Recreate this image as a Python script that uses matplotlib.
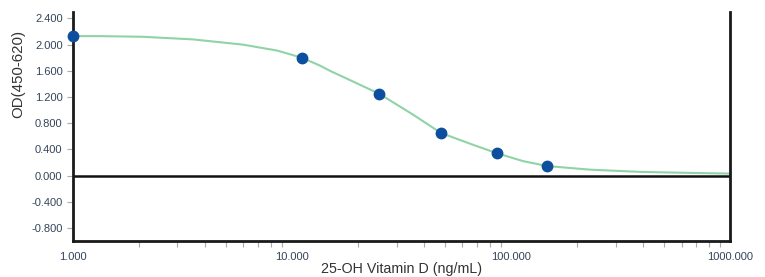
import numpy as np
import matplotlib.pyplot as plt
from matplotlib.ticker import FixedLocator, LogLocator, NullFormatter

plt.rcParams['font.family'] = ['Liberation Sans', 'DejaVu Sans']

# Standards (measured points)
conc = [1.0, 11.1, 25.0, 47.9, 86.3, 146.0]
od = [2.13, 1.80, 1.25, 0.65, 0.34, 0.145]

# Fitted curve
curve_x = [1.0, 1.33, 2.09, 3.53, 5.97, 8.54, 11.1, 13.4, 14.9, 17.8, 25.0,
           35.7, 47.9, 67.0, 86.3, 113.5, 146.0, 229.0, 388.0, 657.0, 1000.0]
curve_y = [2.13, 2.13, 2.12, 2.08, 2.00, 1.91, 1.80, 1.68, 1.60, 1.48, 1.25,
           0.93, 0.65, 0.47, 0.34, 0.22, 0.145, 0.09, 0.056, 0.04, 0.03]

y_ticks = [2.4, 2.0, 1.6, 1.2, 0.8, 0.4, 0.0, -0.4, -0.8]
x_ticks = [1, 10, 100, 1000]

fig = plt.figure(figsize=(7.65, 2.77), dpi=100)
ax = fig.add_axes([0.0954, 0.130, 0.859, 0.827])

ax.plot(curve_x, curve_y, color='#8fd4a6', lw=1.5, zorder=2)
ax.plot(conc, od, 'o', color='#0d4f9e', ms=7.5, zorder=3, clip_on=False)
ax.axhline(0, color='#111111', lw=1.8, zorder=1)

ax.set_xscale('log')
ax.set_xlim(1, 1000)
ax.set_ylim(-1.0, 2.5)

ax.xaxis.set_major_locator(FixedLocator(x_ticks))
ax.set_xticklabels(['%.3f' % v for v in x_ticks])
ax.xaxis.set_minor_locator(LogLocator(base=10, subs=np.arange(2, 10)))
ax.xaxis.set_minor_formatter(NullFormatter())
ax.set_yticks(y_ticks)
ax.set_yticklabels(['%.3f' % v for v in y_ticks])

lab_col = '#34455a'
ax.tick_params(axis='both', which='both', colors='#aaaaaa', labelcolor=lab_col,
               labelsize=8, length=4, width=0.8)
ax.tick_params(axis='x', which='major', length=0, pad=8)

for s in ['left', 'bottom', 'right']:
    ax.spines[s].set_color('#1a1a1a')
    ax.spines[s].set_linewidth(2)
ax.spines['top'].set_visible(False)

ax.set_xlabel('25-OH Vitamin D (ng/mL)', fontsize=10.3, color='#333333', labelpad=0)
ax.set_ylabel('OD(450-620)', fontsize=10.8, color='#333333')
ax.yaxis.set_label_coords(-0.072, 0.729)

fig.savefig('out.png', dpi=100)
